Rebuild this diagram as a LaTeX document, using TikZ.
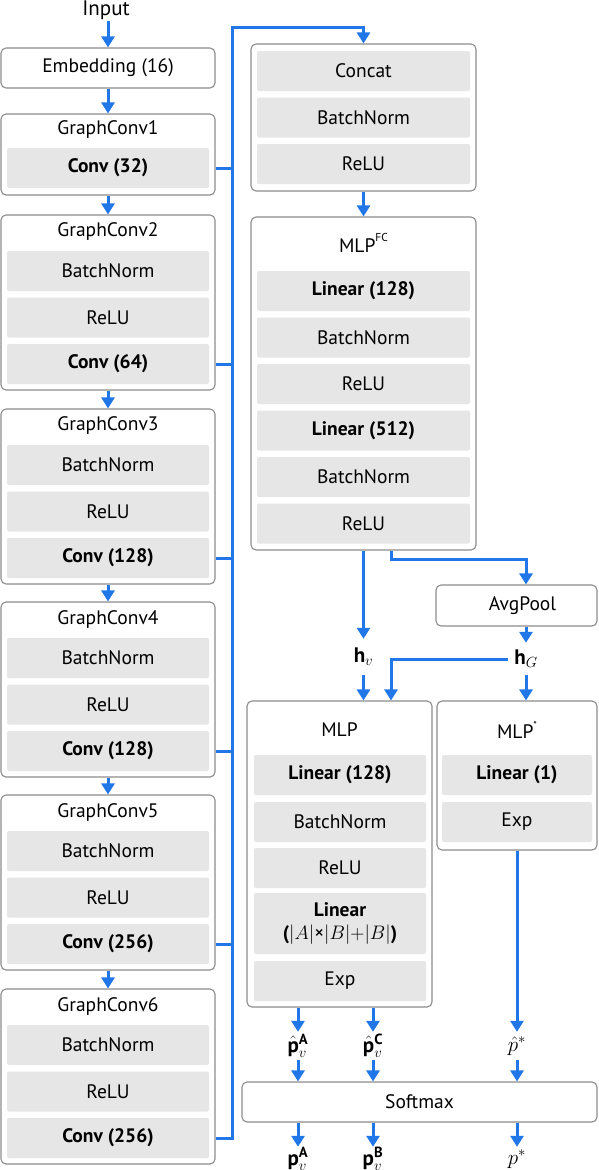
\RequirePackage{fix-cm}
\documentclass[tikz,border=0pt]{standalone}
\usepackage{fontspec}
\setmainfont{PT Sans}
\usetikzlibrary{arrows.meta}
\definecolor{bl}{HTML}{2176E8}
\definecolor{bd}{HTML}{8C8C8C}
\definecolor{lg}{HTML}{E6E6E6}
\begin{document}
\begin{tikzpicture}[x=1pt,y=-1pt,
  font=\fontsize{19.5}{23}\selectfont,
  outer/.style={draw=bd, line width=1.1pt, rounded corners=5pt, fill=white, inner sep=0pt, align=center},
  lay/.style={fill=lg, rounded corners=2pt, inner sep=0pt, minimum height=40pt, align=center},
  arr/.style={draw=bl, line width=3pt, -{Triangle[width=13pt,length=11pt]}},
  bus/.style={draw=bl, line width=3pt},
  lab/.style={inner sep=0pt, font=\fontsize{21}{24}\selectfont}]
\useasboundingbox (0,0) rectangle (598,1170);

% ---------- left column ----------
\node[lab, inner ysep=1.5pt] (inp) at (106,10) {Input};
\node[outer, minimum width=214pt, minimum height=40pt] (emb) at (108,68) {Embedding (16)};
\draw[arr] (inp.south -| emb.north) -- (emb.north);

\node[outer, minimum width=214pt, minimum height=81pt] (gc1) at (108,154.5) {};
\node (t1) at (108,130) {GraphConv1};
\node[lay, minimum width=202pt] (c1) at (108,168) {\textbf{Conv (32)}};
\draw[arr] (emb.south) -- (gc1.north);

\foreach \i/\T/\c in {2/215/64,3/409/128,4/602/128,5/795/256,6/989/256} {
  \node[outer, minimum width=214pt, minimum height=175pt] (gc\i) at (108,\T+87.5) {};
  \node (t\i) at (108,\T+17) {GraphConv\i};
  \node[lay, minimum width=202pt] (bn\i) at (108,\T+56) {BatchNorm};
  \node[lay, minimum width=202pt] (re\i) at (108,\T+102.5) {ReLU};
  \node[lay, minimum width=202pt] (c\i) at (108,\T+149) {\textbf{Conv (\c)}};
}
\draw[arr] (gc1.south) -- (gc2.north);
\draw[arr] (gc2.south) -- (gc3.north);
\draw[arr] (gc3.south) -- (gc4.north);
\draw[arr] (gc4.south) -- (gc5.north);
\draw[arr] (gc5.south) -- (gc6.north);

% ---------- concat block ----------
\node[outer, minimum width=225pt, minimum height=147pt] (concat) at (363.5,117.5) {};
\node[lay, minimum width=213pt] (cc) at (363.5,71) {Concat};
\node[lay, minimum width=213pt] (cbn) at (363.5,117.5) {BatchNorm};
\node[lay, minimum width=213pt] (cre) at (363.5,164) {ReLU};

% ---------- bus ----------
\coordinate (busT) at (232,27);
\draw[arr] (gc6.east |- c6) -| (busT) -| (concat.north);
\foreach \i in {1,...,5} { \draw[bus] (gc\i.east |- c\i) -- (c\i -| busT); }

% ---------- MLP FC ----------
\node[outer, minimum width=225pt, minimum height=333pt] (mlpfc) at (363.5,383.5) {};
\node (tfc) at (363.5,243) {MLP\raisebox{0.55em}{\fontsize{11.5}{11.5}\selectfont FC}};
\node[lay, minimum width=213pt] (f1) at (363.5,291) {\textbf{Linear (128)}};
\node[lay, minimum width=213pt] (f2) at (363.5,337.5) {BatchNorm};
\node[lay, minimum width=213pt] (f3) at (363.5,384) {ReLU};
\node[lay, minimum width=213pt] (f4) at (363.5,430.5) {\textbf{Linear (512)}};
\node[lay, minimum width=213pt] (f5) at (363.5,477) {BatchNorm};
\node[lay, minimum width=213pt] (f6) at (363.5,523.5) {ReLU};
\draw[arr] (concat.south) -- (mlpfc.north);

% ---------- AvgPool, h labels ----------
\node[outer, minimum width=161pt, minimum height=41pt] (avg) at (516.5,605.5) {\hspace*{12pt}AvgPool};
\node[lab, minimum height=36pt] (hv) at (363.5,657) {$\mathbf{h}_v$};
\node[lab, minimum height=32pt, inner xsep=6pt] (hg) at (526,659) {$\mathbf{h}_G$};

% ---------- MLP ----------
\node[outer, minimum width=185pt, minimum height=306pt] (mlp) at (339.5,854) {};
\node (tm) at (339.5,730) {MLP};
\node[lay, minimum width=172pt] (m1) at (340,775) {\textbf{Linear (128)}};
\node[lay, minimum width=172pt] (m2) at (340,822) {BatchNorm};
\node[lay, minimum width=172pt] (m3) at (340,868) {ReLU};
\node[lay, minimum width=172pt, minimum height=61pt] (m4) at (340,923.5) {\fontsize{19.5}{25}\selectfont\textbf{Linear}\\\textbf{(}$|A|$×$|B|{+}|B|$\textbf{)}};
\node[lay, minimum width=172pt] (m5) at (340,981) {Exp};

% ---------- MLP* ----------
\node[outer, minimum width=160pt, minimum height=149pt] (mlps) at (517,775.5) {};
\node (tms) at (517,730) {MLP\raisebox{0.5em}{\fontsize{10}{10}\selectfont *}};
\node[lay, minimum width=150pt] (s1) at (517,775) {\textbf{Linear (1)}};
\node[lay, minimum width=150pt] (s2) at (517,822) {Exp};

\draw[arr] (mlpfc.south -| hv) -- (hv.north);
\draw[arr] (hv.south) -- (hv.south |- mlp.north);
\draw[arr] ([xshift=27.5pt]mlpfc.south) -- ++(0,9) -| (avg.north -| hg);
\draw[arr] (avg.south -| hg) -- (hg.north);
\draw[arr] (hg.south) -- (hg.south |- mlps.north);
\draw[arr] (hg.west) -| ([xshift=51.5pt]mlp.north);

% ---------- Softmax & outputs ----------
\node[outer, minimum width=355pt, minimum height=40pt] (soft) at (419.5,1102) {Softmax};

\node[lab, minimum height=28pt] (pa) at (298,1046) {$\hat{\mathbf{p}}_v^{\mathbf{A}}$};
\node[lab, minimum height=28pt] (pc) at (373,1046) {$\hat{\mathbf{p}}_v^{\mathbf{C}}$};
\node[lab, minimum height=28pt] (ps) at (517,1046) {$\hat{p}^*$};
\draw[arr] (mlp.south -| pa) -- (pa.north);
\draw[arr] (mlp.south -| pc) -- (pc.north);
\draw[arr] (mlps.south -| ps) -- (ps.north);
\draw[arr] (pa.south) -- (pa.south |- soft.north);
\draw[arr] (pc.south) -- (pc.south |- soft.north);
\draw[arr] (ps.south) -- (ps.south |- soft.north);

\node[lab, minimum height=24pt] (qa) at (298,1159) {$\mathbf{p}_v^{\mathbf{A}}$};
\node[lab, minimum height=24pt] (qb) at (373,1159) {$\mathbf{p}_v^{\mathbf{B}}$};
\node[lab, minimum height=24pt] (qs) at (517,1159) {$p^*$};
\draw[arr] (soft.south -| qa) -- (qa.north);
\draw[arr] (soft.south -| qb) -- (qb.north);
\draw[arr] (soft.south -| qs) -- (qs.north);
\end{tikzpicture}
\end{document}
